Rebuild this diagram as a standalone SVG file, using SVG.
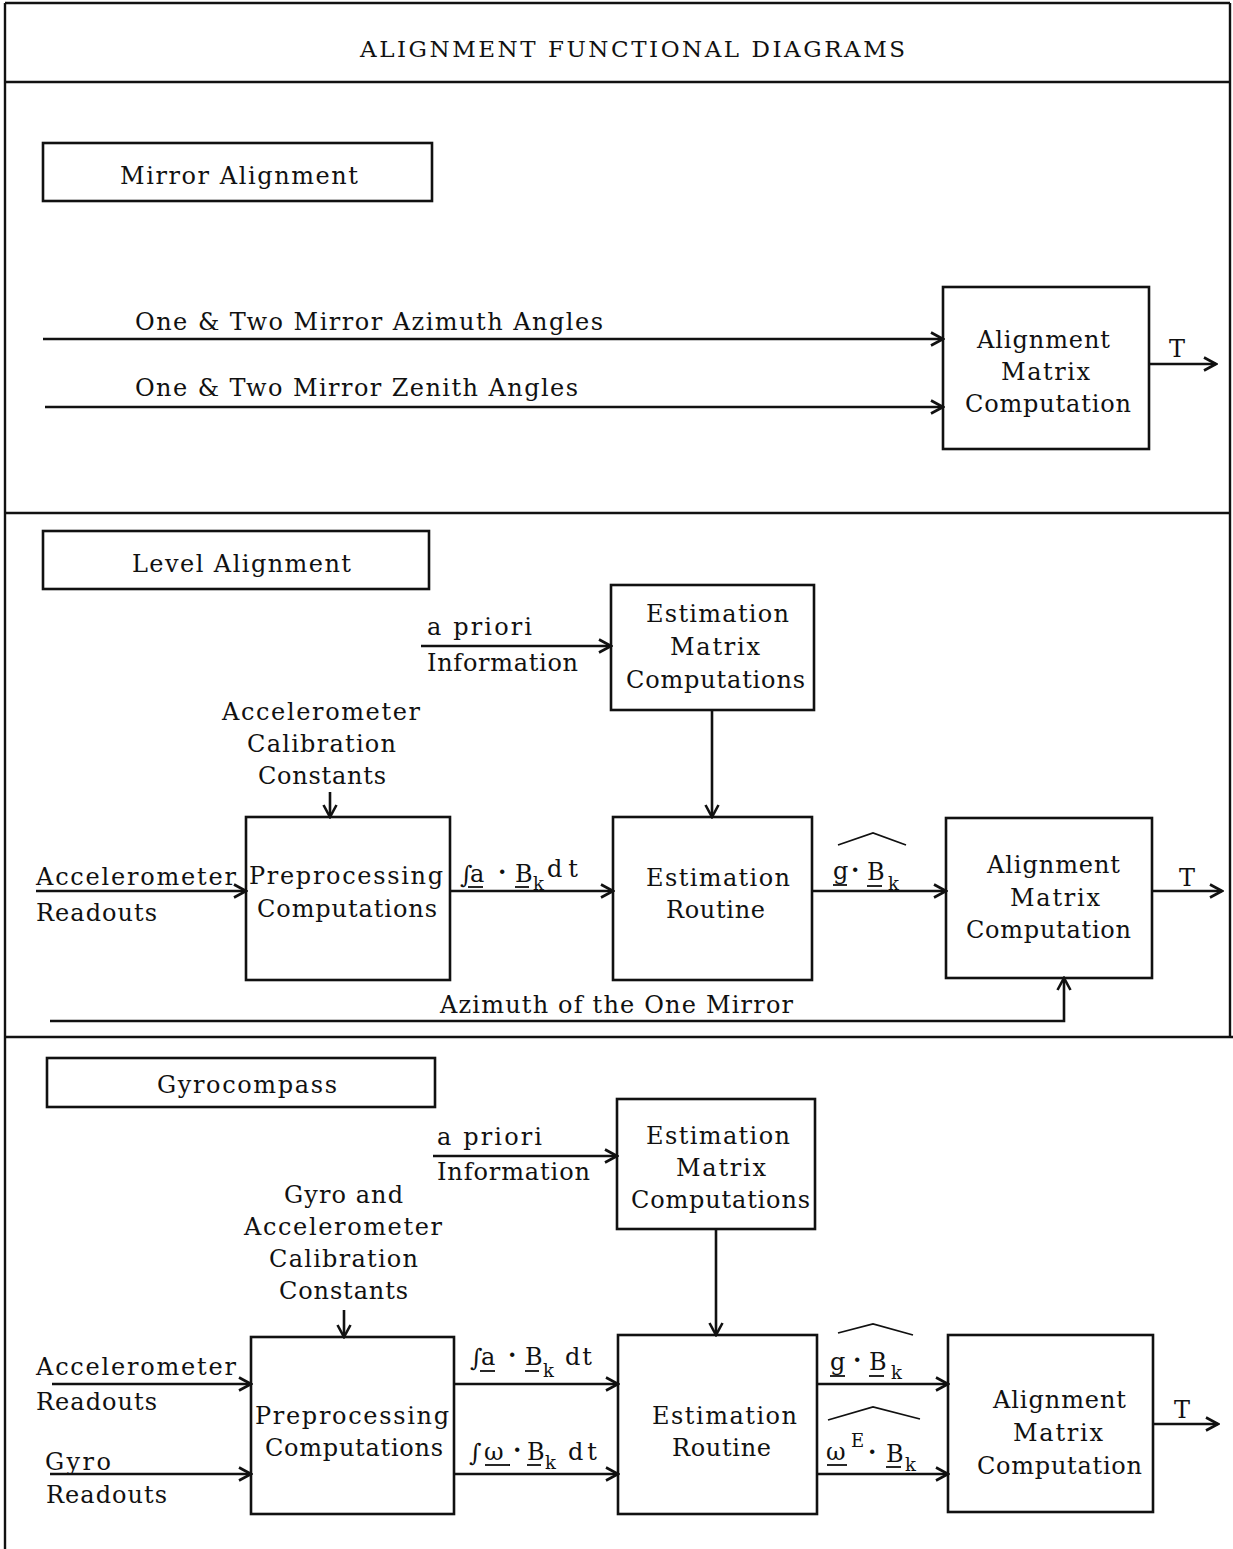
<svg xmlns="http://www.w3.org/2000/svg" width="1233" height="1549" viewBox="0 0 1233 1549">
<style>
text{font-family:"DejaVu Serif","Liberation Serif",serif;font-size:24px;fill:#111}
.t{font-size:23px}
.sub{font-size:18px}
.dot{font-weight:bold}
.box{fill:none;stroke:#111;stroke-width:2.6}
.frame{fill:none;stroke:#111;stroke-width:2.4}
.c{fill:none;stroke:#111;stroke-width:2.6;marker-end:url(#ah)}
.ul{stroke:#111;stroke-width:1.8}
.hat{fill:none;stroke:#111;stroke-width:1.8}
</style>
<defs>
<marker id="ah" markerUnits="userSpaceOnUse" viewBox="0 0 16 16" refX="14" refY="8" markerWidth="16" markerHeight="16" orient="auto">
<path d="M2,1.5 L14,8 L2,14.5" fill="none" stroke="#111" stroke-width="2.6"/>
</marker>
</defs>
<g id="frame">
<line class="frame" x1="5" y1="3" x2="1230" y2="3"/>
<line class="frame" x1="5" y1="3" x2="5" y2="1549"/>
<line class="frame" x1="1230" y1="3" x2="1230" y2="1038"/>
<line class="frame" x1="5" y1="82" x2="1230" y2="82"/>
<line class="frame" x1="5" y1="513" x2="1230" y2="513"/>
<line class="frame" x1="5" y1="1037" x2="1233" y2="1037"/>
<text class="t" x="360" y="57" textLength="545" lengthAdjust="spacing">ALIGNMENT FUNCTIONAL DIAGRAMS</text>
</g>

<g id="mirror-label">
<rect class="box" x="43" y="143" width="389" height="58"/>
<text x="120" y="184" textLength="238" lengthAdjust="spacing">Mirror Alignment</text>
</g>
<g id="amc1">
<rect class="box" x="943" y="287" width="206" height="162"/>
<text x="977" y="348" textLength="133" lengthAdjust="spacing">Alignment</text>
<text x="1001" y="380" textLength="89" lengthAdjust="spacing">Matrix</text>
<text x="965" y="412" textLength="166" lengthAdjust="spacing">Computation</text>
</g>

<g id="level-label">
<rect class="box" x="43" y="531" width="386" height="58"/>
<text x="132" y="572" textLength="219" lengthAdjust="spacing">Level Alignment</text>
</g>
<g id="emc2">
<rect class="box" x="611" y="585" width="203" height="125"/>
<text x="646" y="622" textLength="143" lengthAdjust="spacing">Estimation</text>
<text x="670" y="655" textLength="90" lengthAdjust="spacing">Matrix</text>
<text x="626" y="688" textLength="179" lengthAdjust="spacing">Computations</text>
</g>
<g id="pre2">
<rect class="box" x="246" y="817" width="204" height="163"/>
<text x="249" y="884" textLength="194" lengthAdjust="spacing">Preprocessing</text>
<text x="257" y="917" textLength="180" lengthAdjust="spacing">Computations</text>
</g>
<g id="er2">
<rect class="box" x="613" y="817" width="199" height="163"/>
<text x="646" y="886" textLength="144" lengthAdjust="spacing">Estimation</text>
<text x="666" y="918" textLength="99" lengthAdjust="spacing">Routine</text>
</g>
<g id="amc2">
<rect class="box" x="946" y="818" width="206" height="160"/>
<text x="987" y="873" textLength="133" lengthAdjust="spacing">Alignment</text>
<text x="1010" y="906" textLength="90" lengthAdjust="spacing">Matrix</text>
<text x="966" y="938" textLength="165" lengthAdjust="spacing">Computation</text>
</g>

<g id="gyro-label">
<rect class="box" x="47" y="1058" width="388" height="49"/>
<text x="157" y="1093" textLength="180" lengthAdjust="spacing">Gyrocompass</text>
</g>
<g id="emc3">
<rect class="box" x="617" y="1099" width="198" height="130"/>
<text x="646" y="1144" textLength="144" lengthAdjust="spacing">Estimation</text>
<text x="676" y="1176" textLength="90" lengthAdjust="spacing">Matrix</text>
<text x="631" y="1208" textLength="179" lengthAdjust="spacing">Computations</text>
</g>
<g id="pre3">
<rect class="box" x="251" y="1337" width="203" height="177"/>
<text x="255" y="1424" textLength="194" lengthAdjust="spacing">Preprocessing</text>
<text x="265" y="1456" textLength="178" lengthAdjust="spacing">Computations</text>
</g>
<g id="er3">
<rect class="box" x="618" y="1335" width="199" height="179"/>
<text x="652" y="1424" textLength="145" lengthAdjust="spacing">Estimation</text>
<text x="672" y="1456" textLength="99" lengthAdjust="spacing">Routine</text>
</g>
<g id="amc3">
<rect class="box" x="948" y="1335" width="205" height="177"/>
<text x="993" y="1408" textLength="133" lengthAdjust="spacing">Alignment</text>
<text x="1013" y="1441" textLength="90" lengthAdjust="spacing">Matrix</text>
<text x="977" y="1474" textLength="165" lengthAdjust="spacing">Computation</text>
</g>

<g id="connectors">
<line class="c" x1="43" y1="339" x2="943" y2="339"/>
<line class="c" x1="45" y1="407" x2="943" y2="407"/>
<line class="c" x1="1149" y1="364" x2="1216" y2="364"/>
<line class="c" x1="421" y1="646" x2="611" y2="646"/>
<line class="c" x1="712" y1="710" x2="712" y2="817"/>
<line class="c" x1="330" y1="792" x2="330" y2="817"/>
<line class="c" x1="36" y1="891" x2="246" y2="891"/>
<line class="c" x1="450" y1="891" x2="613" y2="891"/>
<line class="c" x1="812" y1="891" x2="946" y2="891"/>
<line class="c" x1="1152" y1="891" x2="1222" y2="891"/>
<polyline class="c" points="50,1021 1064,1021 1064,978"/>
<line class="c" x1="433" y1="1156" x2="617" y2="1156"/>
<line class="c" x1="716" y1="1229" x2="716" y2="1335"/>
<line class="c" x1="344" y1="1310" x2="344" y2="1337"/>
<line class="c" x1="52" y1="1384" x2="251" y2="1384"/>
<line class="c" x1="50" y1="1474" x2="251" y2="1474"/>
<line class="c" x1="454" y1="1384" x2="618" y2="1384"/>
<line class="c" x1="454" y1="1474" x2="618" y2="1474"/>
<line class="c" x1="817" y1="1384" x2="948" y2="1384"/>
<line class="c" x1="817" y1="1474" x2="948" y2="1474"/>
<line class="c" x1="1153" y1="1424" x2="1218" y2="1424"/>
</g>

<g id="labels">
<text x="135" y="330" textLength="468" lengthAdjust="spacing">One &amp; Two Mirror Azimuth Angles</text>
<text x="135" y="396" textLength="443" lengthAdjust="spacing">One &amp; Two Mirror Zenith Angles</text>
<text x="1169" y="357" textLength="18" lengthAdjust="spacing">T</text>

<text x="427" y="635" textLength="105" lengthAdjust="spacing">a priori</text>
<text x="427" y="671" textLength="151" lengthAdjust="spacing">Information</text>
<text x="222" y="720" textLength="198" lengthAdjust="spacing">Accelerometer</text>
<text x="247" y="752" textLength="149" lengthAdjust="spacing">Calibration</text>
<text x="258" y="784" textLength="128" lengthAdjust="spacing">Constants</text>
<text x="36" y="885" textLength="200" lengthAdjust="spacing">Accelerometer</text>
<text x="36" y="921" textLength="121" lengthAdjust="spacing">Readouts</text>
<text x="1179" y="886" textLength="18" lengthAdjust="spacing">T</text>
<text x="440" y="1013" textLength="353" lengthAdjust="spacing">Azimuth of the One Mirror</text>

<text x="460" y="883">∫</text>
<text x="470" y="882">a</text>
<text class="dot" x="498" y="880">·</text>
<text x="515" y="882">B</text>
<text class="sub" x="533" y="890">k</text>
<text x="547" y="877" textLength="31" lengthAdjust="spacing">dt</text>
<line class="ul" x1="468" y1="887" x2="483" y2="887"/>
<line class="ul" x1="515" y1="887" x2="529" y2="887"/>

<text x="833" y="879">g</text>
<text class="dot" x="851" y="878">·</text>
<text x="867" y="880">B</text>
<text class="sub" x="888" y="890">k</text>
<line class="ul" x1="833" y1="885" x2="847" y2="885"/>
<line class="ul" x1="867" y1="886" x2="882" y2="886"/>
<polyline class="hat" points="838,845 873,833 906,845"/>

<text x="437" y="1145" textLength="105" lengthAdjust="spacing">a priori</text>
<text x="437" y="1180" textLength="153" lengthAdjust="spacing">Information</text>
<text x="284" y="1203" textLength="119" lengthAdjust="spacing">Gyro and</text>
<text x="244" y="1235" textLength="198" lengthAdjust="spacing">Accelerometer</text>
<text x="269" y="1267" textLength="149" lengthAdjust="spacing">Calibration</text>
<text x="279" y="1299" textLength="129" lengthAdjust="spacing">Constants</text>
<text x="36" y="1375" textLength="200" lengthAdjust="spacing">Accelerometer</text>
<text x="36" y="1410" textLength="121" lengthAdjust="spacing">Readouts</text>
<text x="45" y="1470" textLength="66" lengthAdjust="spacing">Gyro</text>
<text x="46" y="1503" textLength="121" lengthAdjust="spacing">Readouts</text>
<text x="1174" y="1418" textLength="18" lengthAdjust="spacing">T</text>

<text x="470" y="1366">∫</text>
<text x="481" y="1365">a</text>
<text class="dot" x="508" y="1363">·</text>
<text x="525" y="1365">B</text>
<text class="sub" x="543" y="1377">k</text>
<text x="565" y="1365" textLength="27" lengthAdjust="spacing">dt</text>
<line class="ul" x1="480" y1="1371" x2="495" y2="1371"/>
<line class="ul" x1="525" y1="1371" x2="539" y2="1371"/>

<text x="469" y="1461">∫</text>
<text x="484" y="1460">ω</text>
<text class="dot" x="513" y="1458">·</text>
<text x="527" y="1460">B</text>
<text class="sub" x="545" y="1469">k</text>
<text x="568" y="1460" textLength="29" lengthAdjust="spacing">dt</text>
<line class="ul" x1="485" y1="1465" x2="510" y2="1465"/>
<line class="ul" x1="527" y1="1465" x2="541" y2="1465"/>

<text x="830" y="1370">g</text>
<text class="dot" x="853" y="1368">·</text>
<text x="869" y="1370">B</text>
<text class="sub" x="891" y="1379">k</text>
<line class="ul" x1="830" y1="1376" x2="845" y2="1376"/>
<line class="ul" x1="869" y1="1376" x2="884" y2="1376"/>
<polyline class="hat" points="838,1333 873,1324 913,1335"/>

<text x="826" y="1460">ω</text>
<text class="sub" x="851" y="1447">E</text>
<text class="dot" x="868" y="1460">·</text>
<text x="886" y="1462">B</text>
<text class="sub" x="905" y="1471">k</text>
<line class="ul" x1="827" y1="1465" x2="847" y2="1465"/>
<line class="ul" x1="886" y1="1467" x2="901" y2="1467"/>
<polyline class="hat" points="828,1420 873,1407 920,1419"/>
</g>
</svg>
